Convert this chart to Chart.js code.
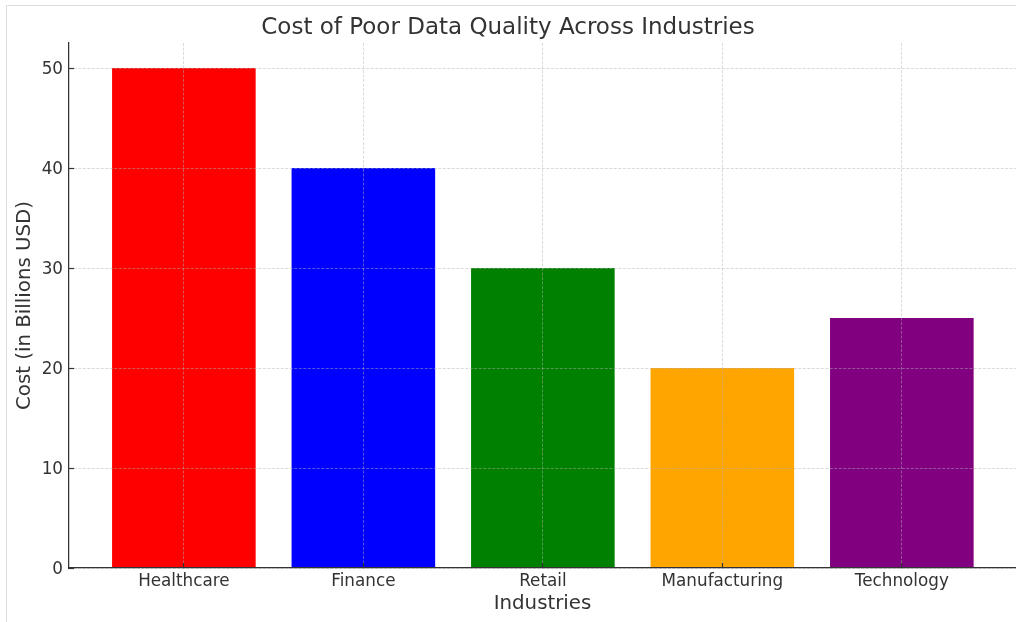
<!DOCTYPE html>
<html>
<head>
<meta charset="utf-8">
<script src="https://cdn.jsdelivr.net/npm/chart.js@4"></script>
<style>
  html, body { margin: 0; padding: 0; background: #fff; overflow: hidden; }
  #wrap { width: 1016px; height: 622px; position: relative; }
</style>
</head>
<body>
<div id="wrap"><canvas id="costChart"></canvas></div>
<script>
const industries = ["Healthcare", "Finance", "Retail", "Manufacturing", "Technology"];
const costs = [50, 40, 30, 20, 25];
const barColors = ["#ff0000", "#0000ff", "#008000", "#ffa500", "#800080"];
const yTicks = [0, 10, 20, 30, 40, 50];

const gridColor = "rgba(178,178,178,0.6)";
const textColor = "#333333";

// light frame around the figure (only left/top edges are visible)
const frame = {
    id: "frame",
    beforeDraw(chart) {
        const ctx = chart.ctx;
        ctx.save();
        ctx.strokeStyle = "#dddddd";
        ctx.lineWidth = 1;
        ctx.beginPath();
        ctx.moveTo(6.5, 622);
        ctx.lineTo(6.5, 5.5);
        ctx.lineTo(1016, 5.5);
        ctx.stroke();
        ctx.restore();
    }
};

Chart.defaults.font.family = "'DejaVu Sans', sans-serif";
Chart.defaults.color = textColor;

const ctx = document.getElementById("costChart").getContext("2d");
new Chart(ctx, {
    type: "bar",
    data: {
        datasets: [{
            data: costs.map((v, i) => ({ x: i, y: v })),
            backgroundColor: barColors,
            borderWidth: 0,
            barPercentage: 0.8,
            categoryPercentage: 1.0
        }]
    },
    options: {
        responsive: true,
        maintainAspectRatio: false,
        animation: false,
        layout: { padding: 0 },
        plugins: {
            legend: { display: false },
            tooltip: { enabled: false },
            title: {
                display: true,
                text: "Cost of Poor Data Quality Across Industries",
                color: textColor,
                font: { size: 23, weight: "normal" },
                padding: { top: 14, bottom: 1.4 }
            }
        },
        scales: {
            x: {
                type: "linear",
                offset: false,
                min: -0.64,
                max: 4.636,
                afterBuildTicks: s => { s.ticks = industries.map((c, i) => ({ value: i })); },
                afterFit: s => { s.height = 54; },
                ticks: {
                    callback: v => industries[v],
                    font: { size: 16.8 },
                    color: textColor,
                    padding: 9,
                    maxRotation: 0,
                    autoSkip: false
                },
                grid: {
                    z: 1,
                    offset: false,
                    color: gridColor,
                    lineWidth: 0.8,
                    tickLength: -5,
                    tickColor: "#333333",
                    tickWidth: 1.2,
                    tickBorderDash: []
                },
                border: { z: 2, color: "#333333", width: 1.25, dash: [3, 1.5] },
                title: {
                    display: true,
                    text: "Industries",
                    color: textColor,
                    font: { size: 19.8 },
                    padding: { top: 0, bottom: 6 }
                }
            },
            y: {
                min: 0,
                max: 52.5,
                afterBuildTicks: s => { s.ticks = yTicks.map(v => ({ value: v })); },
                afterFit: s => { s.width = 69; },
                ticks: {
                    font: { size: 16.8 },
                    color: textColor,
                    padding: 11,
                    labelOffset: 2
                },
                grid: {
                    z: 1,
                    color: gridColor,
                    lineWidth: 0.8,
                    tickLength: -5,
                    tickColor: "#333333",
                    tickWidth: 1.2,
                    tickBorderDash: []
                },
                border: { z: 2, color: "#333333", width: 1.25, dash: [3, 1.5] },
                title: {
                    display: true,
                    text: "Cost (in Billions USD)",
                    color: textColor,
                    font: { size: 19.8 },
                    padding: { top: 13, bottom: 0 }
                }
            }
        }
    },
    plugins: [frame]
});
</script>
</body>
</html>
